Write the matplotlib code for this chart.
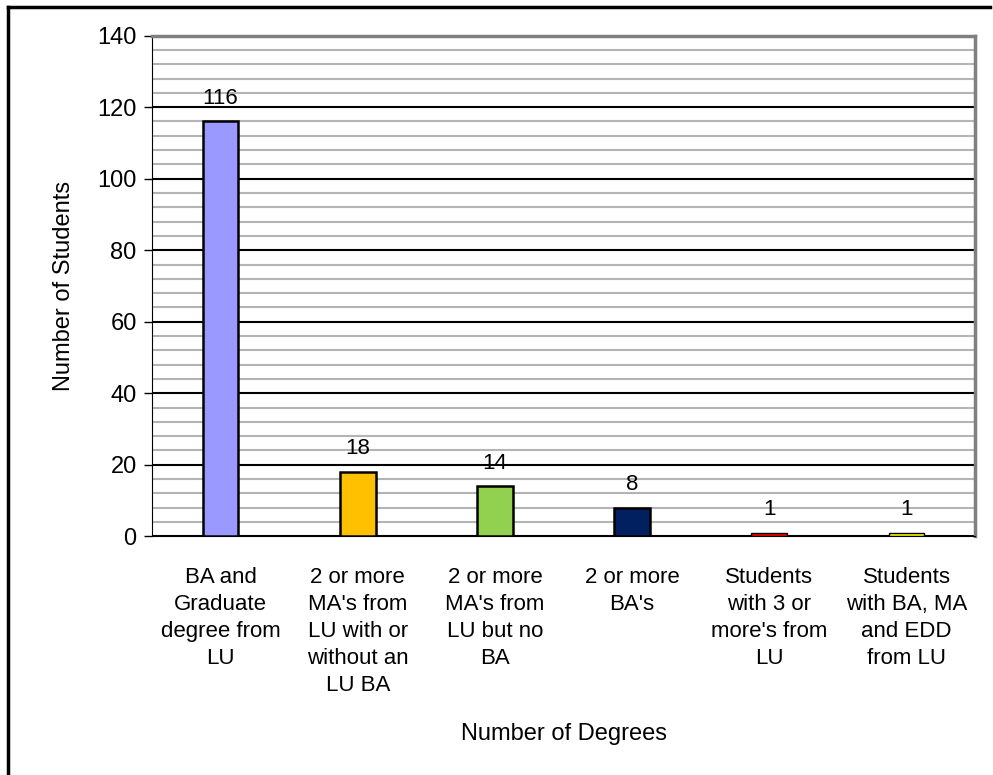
import numpy as np
import matplotlib.pyplot as plt
from matplotlib.lines import Line2D

plt.rcParams['font.family'] = ['Liberation Sans', 'DejaVu Sans']

# categories and values
categories = ["BA and\nGraduate\ndegree from\nLU",
              "2 or more\nMA's from\nLU with or\nwithout an\nLU BA",
              "2 or more\nMA's from\nLU but no\nBA",
              "2 or more\nBA's",
              "Students\nwith 3 or\nmore's from\nLU",
              "Students\nwith BA, MA\nand EDD\nfrom LU"]
students = [116, 18, 14, 8, 1, 1]
bar_colors = ["#9999FF", "#FFC000", "#92D050", "#002060", "#FF0000", "#FFFF00"]

fig = plt.figure(figsize=(9.93, 7.75), dpi=100)
ax = fig.add_axes([0.153, 0.308, 0.829, 0.646])

x = np.arange(len(categories))
bars = ax.bar(x, students, width=0.26, color=bar_colors, edgecolor="black", linewidth=1.8, zorder=3)
# thinner outline on the tiny bars so their colour still shows
for b, v in zip(bars, students):
    if v < 3:
        b.set_linewidth(1.0)

for b, v in zip(bars, students):
    ax.annotate(str(v), (b.get_x() + b.get_width() / 2, v), xytext=(0, 9),
                textcoords="offset points", ha="center", va="bottom", fontsize=16)

ax.set_xlim(-0.5, len(categories) - 0.5)
ax.set_ylim(0, 140)
ax.set_yticks(np.arange(0, 141, 20))
ax.set_yticks(np.arange(0, 141, 4), minor=True)
ax.tick_params(axis="y", which="major", labelsize=17, length=6, width=1, direction="out", pad=5)
ax.tick_params(axis="y", which="minor", length=0)
ax.set_xticks(x)
ax.set_xticklabels(categories, fontsize=16, linespacing=1.38)
ax.tick_params(axis="x", length=0, pad=22)

ax.grid(axis="y", which="minor", color="#b4b4b4", linewidth=1.5, zorder=0)
ax.grid(axis="y", which="major", color="black", linewidth=1.5, zorder=1)

ax.spines["top"].set_color("#808080")
ax.spines["right"].set_color("#808080")
ax.spines["top"].set_linewidth(2.5)
ax.spines["right"].set_linewidth(2.5)
ax.spines["left"].set_color("black")
ax.spines["bottom"].set_color("black")

ax.set_ylabel("Number of Students", fontsize=17, labelpad=16)
ax.set_xlabel("Number of Degrees", fontsize=17, labelpad=19)

# outer frame (top and left only)
fig.add_artist(Line2D([0.008, 0.997], [0.991, 0.991], color="black", linewidth=2.5))
fig.add_artist(Line2D([0.008, 0.008], [0.0, 0.991], color="black", linewidth=2.5))

plt.savefig("out.png")
